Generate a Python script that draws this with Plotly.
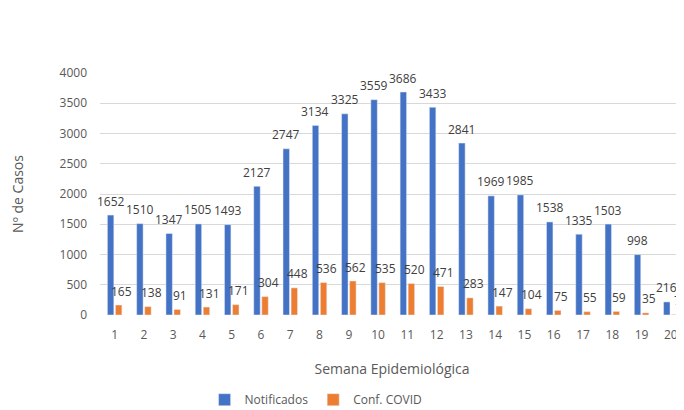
import plotly.graph_objects as go

semanas = list(range(1, 21))
notificados = [1652, 1510, 1347, 1505, 1493, 2127, 2747, 3134, 3325, 3559, 3686, 3433, 2841, 1969, 1985, 1538, 1335, 1503, 998, 216]
confirmados = [165, 138, 91, 131, 171, 304, 448, 536, 562, 535, 520, 471, 283, 147, 104, 75, 55, 59, 35, 7]
y_ticks = [0, 500, 1000, 1500, 2000, 2500, 3000, 3500, 4000]

BLUE = "#4472C4"
ORANGE = "#ED7D31"
TXT = "#404040"
FONT = "Open Sans, Liberation Sans, Arial, sans-serif"

fig = go.Figure()
fig.add_trace(go.Bar(x=semanas, y=notificados, name="Notificados", marker_color=BLUE))
fig.add_trace(go.Bar(x=semanas, y=confirmados, name="Conf. COVID", marker_color=ORANGE))

off = 0.14
for s, v in zip(semanas, notificados):
    fig.add_annotation(x=s - off, y=v, text=str(v), showarrow=False, yanchor="middle",
                       yshift=14, font=dict(size=12, color=TXT, family=FONT))
for s, v in zip(semanas, confirmados):
    fig.add_annotation(x=s + off, y=v, text=str(v), showarrow=False, yanchor="middle",
                       yshift=14, xshift=3, font=dict(size=12, color=TXT, family=FONT))

fig.update_layout(
    width=676, height=402,
    margin=dict(l=92, r=0, t=65, b=95, autoexpand=False),
    paper_bgcolor="white", plot_bgcolor="white",
    barmode="group", bargap=0.45, bargroupgap=0.2,
    font=dict(family=FONT, color="#595959", size=12),
    showlegend=True,
    legend=dict(orientation="h", x=0.37, xanchor="center", y=-0.35, yanchor="middle",
                font=dict(size=12, color="#595959"), itemwidth=30, tracegroupgap=0),
)
fig.update_xaxes(range=[0.5, 20.45], tickvals=semanas, ticktext=[str(s) for s in semanas],
                 showgrid=False, zeroline=False, showline=False, ticks="", automargin=False,
                 ticklabelstandoff=11,
                 tickfont=dict(size=12, color="#595959"),
                 title=dict(text="Semana Epidemiológica", font=dict(size=14, color="#595959"), standoff=22))
fig.update_yaxes(range=[0, 4000], tickvals=y_ticks, showgrid=True, gridcolor="#D9D9D9", gridwidth=1,
                 zeroline=False, showline=False, ticks="", ticklabelstandoff=12, automargin=False,
                 tickfont=dict(size=12, color="#595959"),
                 title=dict(text="Nº de Casos", font=dict(size=14, color="#595959"), standoff=44))

fig.write_html("out.html")
